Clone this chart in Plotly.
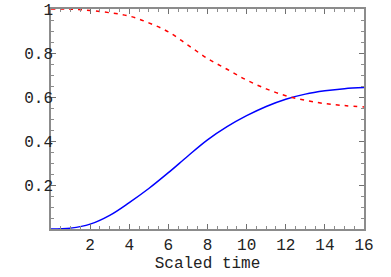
import plotly.graph_objects as go

time = [0, 1, 2, 3, 4, 5, 6, 7, 8, 9, 10, 11, 12, 13, 14, 15, 16]
blue_vals = [0.0, 0.004, 0.022, 0.062, 0.12, 0.184, 0.256, 0.332, 0.405, 0.465, 0.515, 0.557, 0.59, 0.613, 0.628, 0.638, 0.643]
red_vals = [1.0, 0.999, 0.993, 0.983, 0.968, 0.937, 0.896, 0.836, 0.775, 0.726, 0.677, 0.637, 0.606, 0.585, 0.570, 0.561, 0.555]

x_ticks = [2, 4, 6, 8, 10, 12, 14, 16]
x_tick_labels = ["2", "4", "6", "8", "10", "12", "14", "16"]
y_ticks = [0.2, 0.4, 0.6, 0.8, 1.0]
y_tick_labels = ["0.2", "0.4", "0.6", "0.8", "1"]

font_family = "Liberation Mono, Courier New, monospace"

fig = go.Figure()
fig.add_trace(go.Scatter(x=time, y=blue_vals, mode="lines", line=dict(color="#0000ff", width=1.5, shape="spline", smoothing=1.0), showlegend=False))
fig.add_trace(go.Scatter(x=time, y=red_vals, mode="lines", line=dict(color="#ff0000", width=1.5, dash="4px,5px", shape="spline", smoothing=1.0), showlegend=False))

axis_common = dict(
    showgrid=False, zeroline=False, showline=True, linecolor="#8c8c8c", linewidth=1.5,
    mirror="allticks", ticks="inside", ticklen=5, tickcolor="#707070", tickwidth=1,
    tickfont=dict(family=font_family, size=16, color="#222222"), automargin=False,
)

fig.update_xaxes(
    range=[0, 16], tickvals=x_ticks, ticktext=x_tick_labels,
    minor=dict(dtick=0.5, ticks="inside", ticklen=3, tickcolor="#8c8c8c", showgrid=False),
    title=dict(text="Scaled time", font=dict(family=font_family, size=16, color="#222222"), standoff=0),
    **axis_common,
)
fig.update_yaxes(
    range=[0, 1], tickvals=y_ticks, ticktext=y_tick_labels, ticklabelstandoff=-7,
    minor=dict(dtick=0.05, ticks="inside", ticklen=3, tickcolor="#8c8c8c", showgrid=False),
    **axis_common,
)

fig.update_layout(
    width=391, height=277,
    margin=dict(l=51, r=27, t=9, b=48),
    paper_bgcolor="white", plot_bgcolor="white",
)

fig.write_html("out.html", config={"displayModeBar": False},
               post_script="document.body.style.margin='0px';")
